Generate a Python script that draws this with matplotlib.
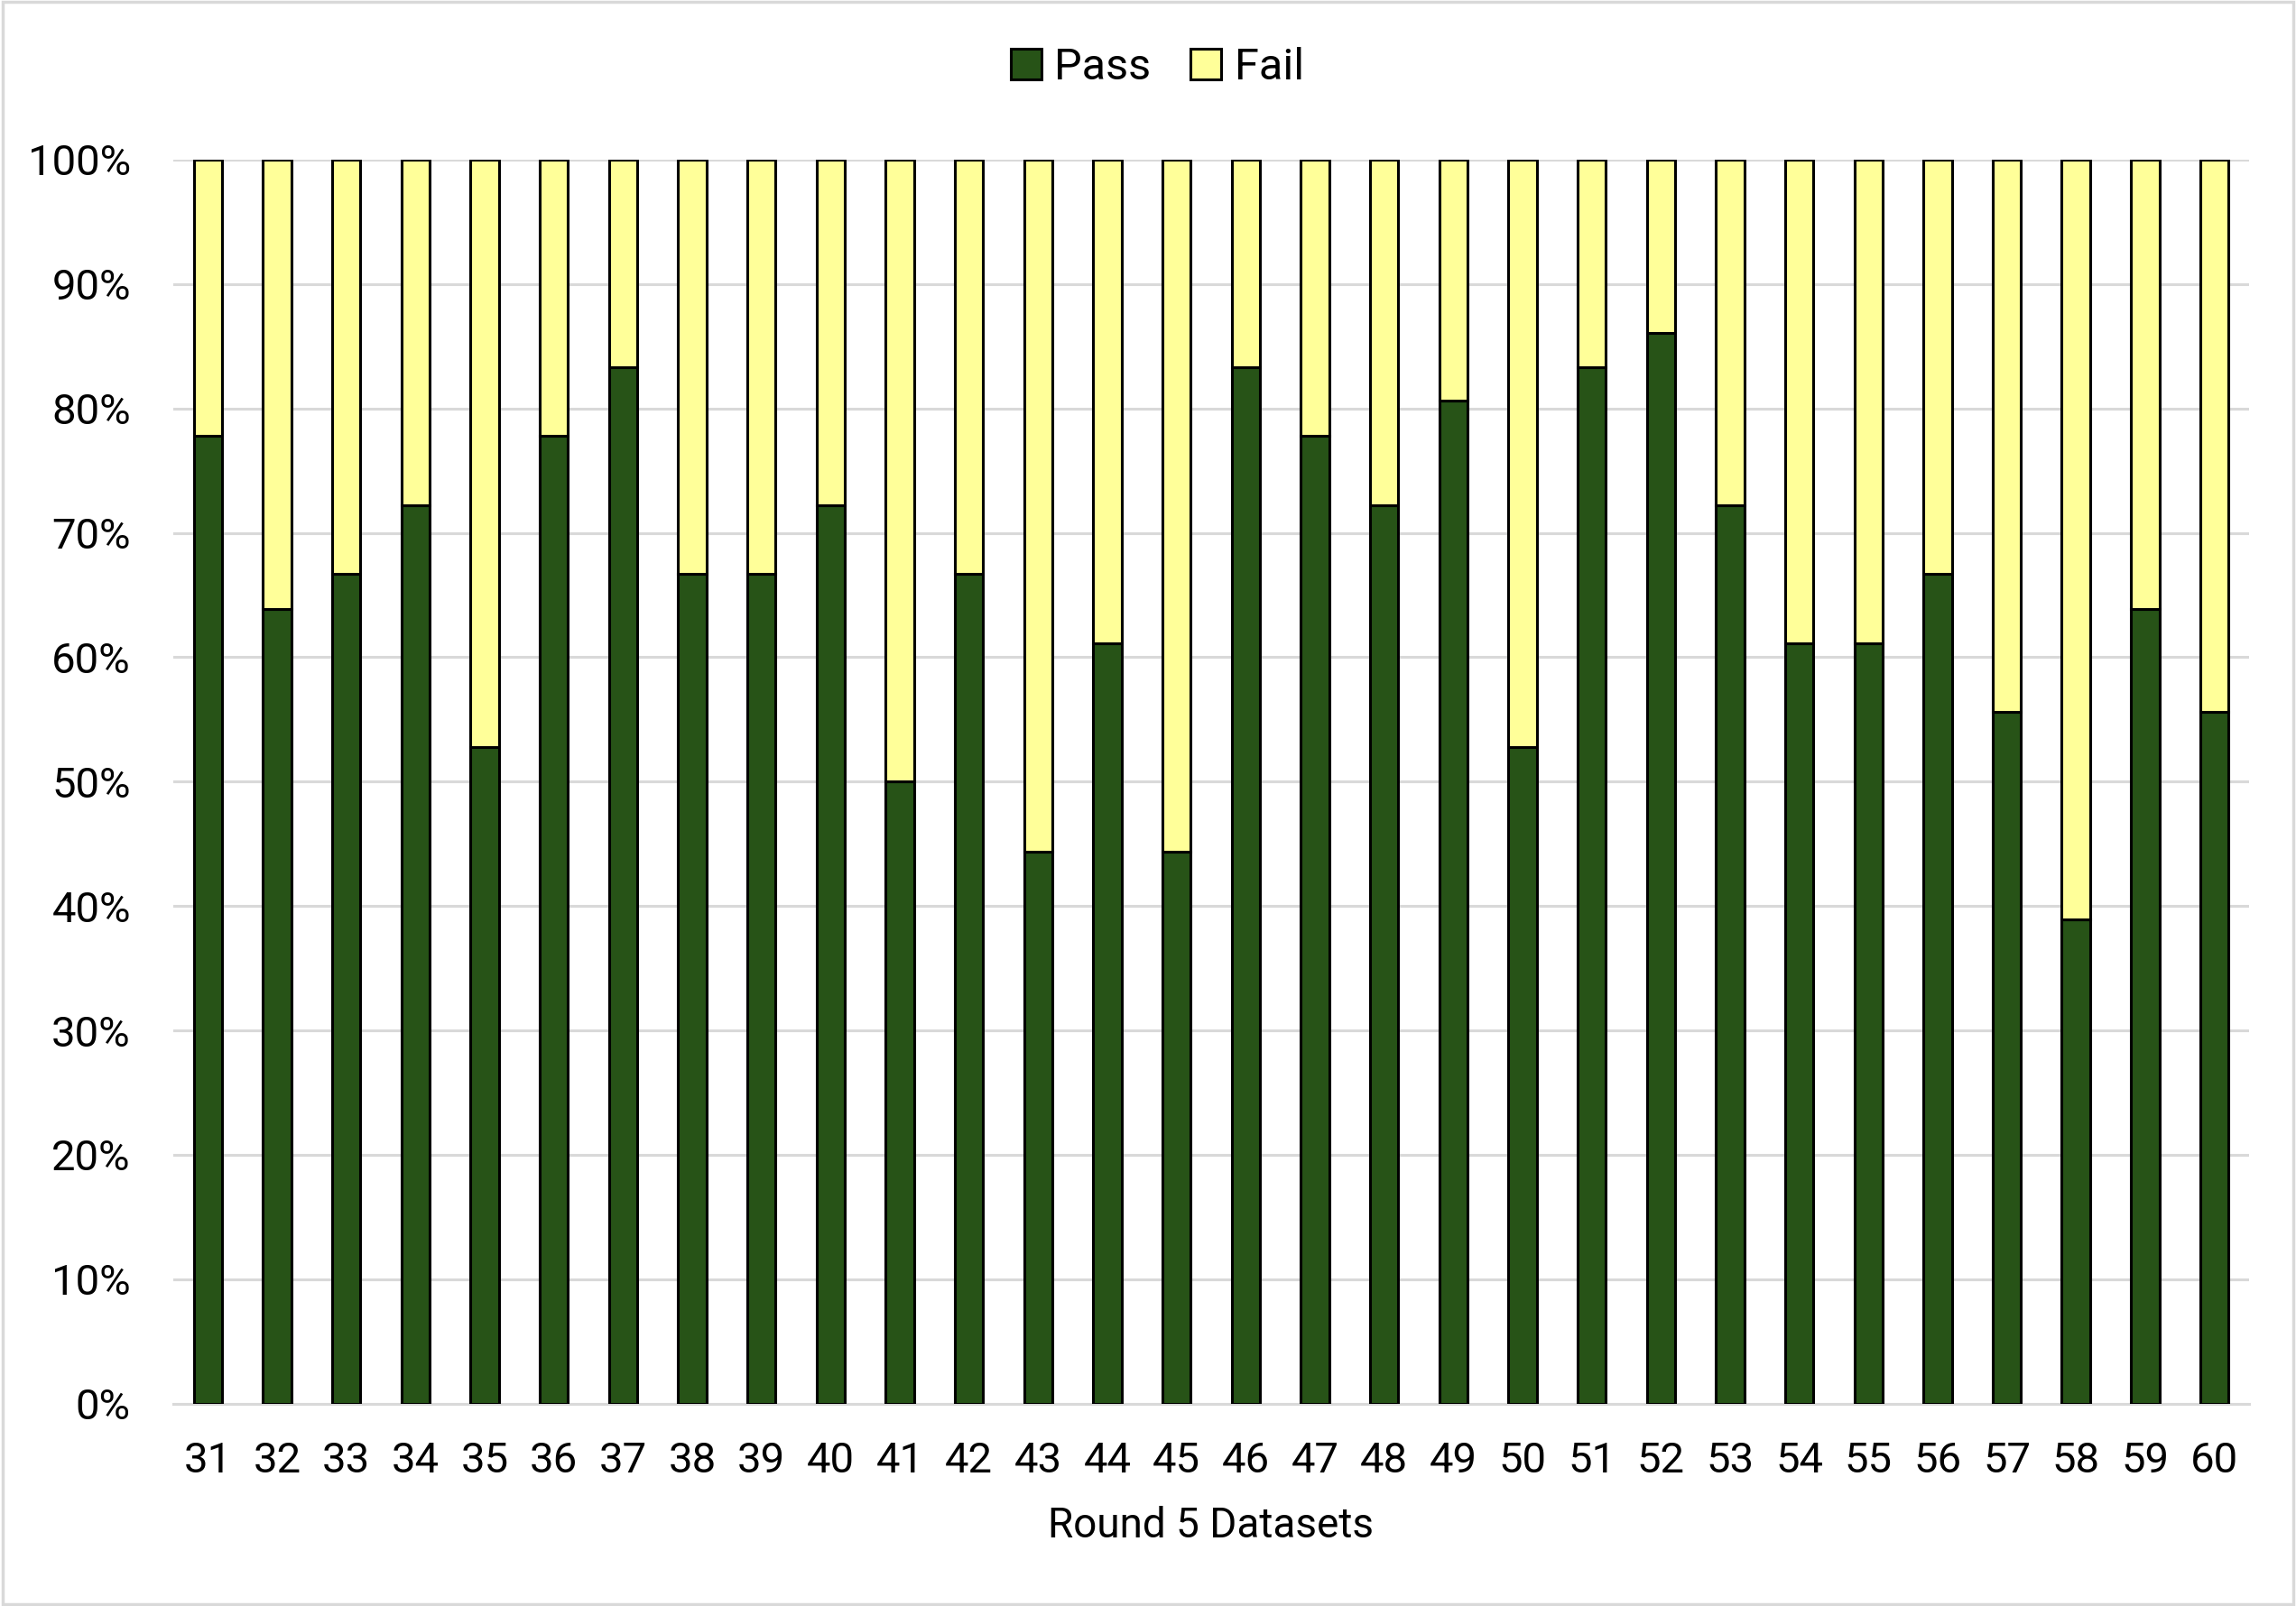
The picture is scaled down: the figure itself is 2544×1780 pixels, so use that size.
import numpy as np
import matplotlib.pyplot as plt
from matplotlib.patches import Rectangle
from matplotlib.ticker import PercentFormatter

plt.rcParams['font.family'] = ['Roboto', 'DejaVu Sans']

# dataset ids and pass share (%)
datasets = [str(i) for i in range(31, 61)]
pass_pct = [77.8, 63.9, 66.7, 72.2, 52.8, 77.8, 83.3, 66.7, 66.7, 72.2,
            50.0, 66.7, 44.4, 61.1, 44.4, 83.3, 77.8, 72.2, 80.6, 52.8,
            83.3, 86.1, 72.2, 61.1, 61.1, 66.7, 55.6, 38.9, 63.9, 55.6]
fail_pct = [100 - p for p in pass_pct]

green = '#275317'
yellow = '#FFFF99'
grid_col = '#D9D9D9'

fig = plt.figure(figsize=(25.44, 17.8), dpi=100)
ax = fig.add_axes([0.0755, 0.126, 0.904, 0.7746])

x = np.arange(len(datasets))
w = 0.41
ax.bar(x, pass_pct, w, color=green, edgecolor='black', linewidth=2.2,
       label='Pass', zorder=3)
ax.bar(x, fail_pct, w, bottom=pass_pct, color=yellow, edgecolor='black',
       linewidth=2.2, label='Fail', zorder=3)

ax.set_xlim(-0.5, len(datasets) - 0.5)
ax.set_ylim(0, 100)
ax.set_yticks(np.arange(0, 101, 10))
ax.yaxis.set_major_formatter(PercentFormatter(decimals=0))
ax.set_xticks(x)
ax.set_xticklabels(datasets)
ax.tick_params(axis='both', length=0, labelsize=34)
ax.tick_params(axis='x', pad=30)
ax.tick_params(axis='y', pad=34)
ax.yaxis.grid(True, color=grid_col, linewidth=2.2, zorder=0)
ax.set_axisbelow(True)
for s in ['top', 'right', 'left']:
    ax.spines[s].set_visible(False)
ax.spines['bottom'].set_color(grid_col)
ax.spines['bottom'].set_linewidth(2.2)

ax.set_xlabel('Round 5 Datasets', fontsize=33, labelpad=20)

fig.legend(loc='center', bbox_to_anchor=(0.504, 0.958), ncol=2, frameon=False,
           fontsize=35, handlelength=0.7, handleheight=0.7, handletextpad=0.3,
           columnspacing=0.9)

# light border around the whole chart area
fig.patches.append(Rectangle((0.001, 0.001), 0.998, 0.998, transform=fig.transFigure,
                             fill=False, edgecolor=grid_col, linewidth=2.5))

fig.savefig('out.png', dpi=100)
